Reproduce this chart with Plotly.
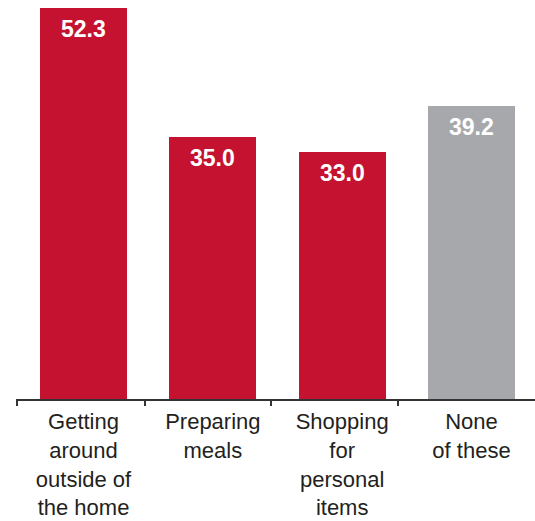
import plotly.graph_objects as go

# Share of respondents (%) by activity
categories = ["Getting around outside of the home", "Preparing meals",
              "Shopping for personal items", "None of these"]
tick_labels = ["Getting<br>around<br>outside of<br>the home", "Preparing<br>meals",
               "Shopping<br>for<br>personal<br>items", "None<br>of these"]
values = [52.3, 35.0, 33.0, 39.2]
bar_colors = ["#C41230", "#C41230", "#C41230", "#A7A8AC"]

FONT = "Liberation Sans, Arial, sans-serif"

fig = go.Figure()
fig.add_trace(go.Bar(
    x=categories, y=values, marker=dict(color=bar_colors, line=dict(width=0)),
    width=0.673, hoverinfo="skip", showlegend=False,
))
# invisible trace so the tick-mark axis gets drawn
fig.add_trace(go.Scatter(x=[100], y=[0], xaxis="x2", mode="markers",
                         marker=dict(opacity=0), hoverinfo="skip", showlegend=False))

for cat, v in zip(categories, values):
    fig.add_annotation(x=cat, y=v, text=f"<b>{v:.1f}</b>", showarrow=False,
                       yanchor="top", yshift=-6,
                       font=dict(family=FONT, size=23, color="white"))

fig.update_layout(
    width=535, height=521,
    margin=dict(l=16, r=0, t=0, b=121.5),
    plot_bgcolor="white", paper_bgcolor="white",
    font=dict(family=FONT, size=22, color="#231F20"),
    xaxis=dict(
        range=[-0.522, 3.491], tickmode="array", tickvals=categories, ticktext=tick_labels,
        ticks="", showline=True, linecolor="#333333", linewidth=2,
        showgrid=False, zeroline=False, ticklabelstandoff=2, automargin=False,
    ),
    xaxis2=dict(
        range=[16, 535], overlaying="x", anchor="y", side="bottom",
        tickmode="array", tickvals=[17.3, 145, 271, 398], ticks="outside",
        ticklen=6, tickwidth=1.5, tickcolor="#333333", automargin=False,
        showticklabels=False, showline=False, showgrid=False, zeroline=False,
    ),
    yaxis=dict(range=[0, 53.37], visible=False, fixedrange=True, automargin=False),
    bargap=0,
)

fig.write_html("out.html")
